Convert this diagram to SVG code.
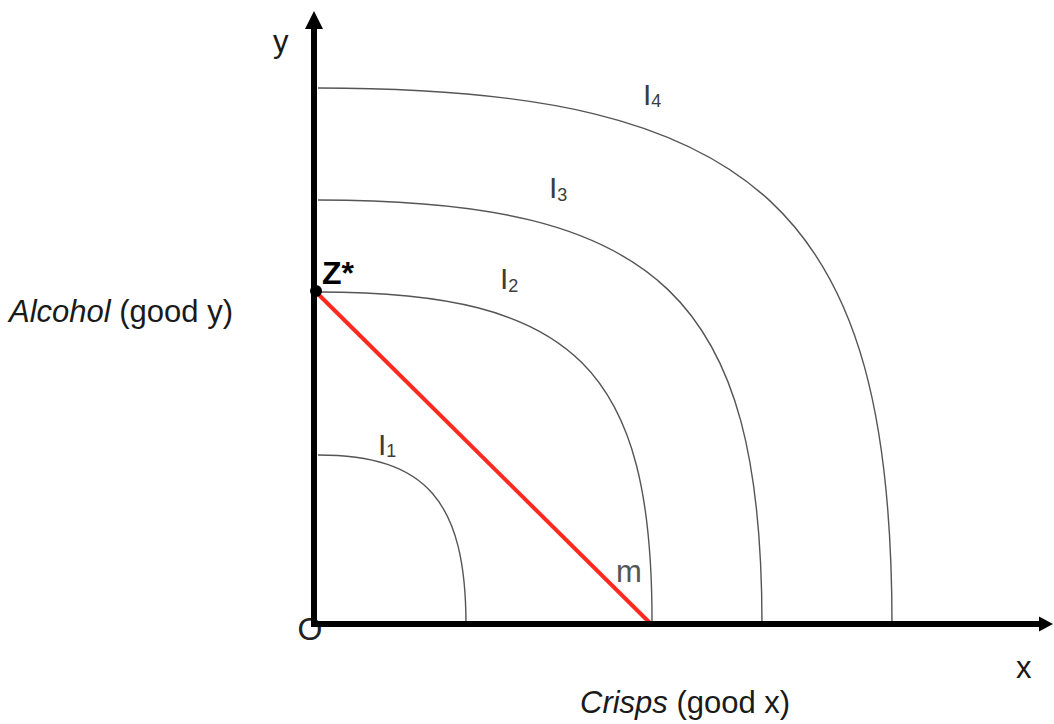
<svg xmlns="http://www.w3.org/2000/svg" width="1054" height="724" viewBox="0 0 1054 724">
<style>
  text { font-family: "Liberation Sans", Arial, sans-serif; }
  .lbl { font-size: 31px; fill: #1a1a1a; }
  .glbl { font-size: 30px; fill: #3c3c3c; }
  .sub { font-size: 18px; }
  .curve { fill: none; stroke: #555; stroke-width: 1.4; }
  .axis { stroke: #000; stroke-width: 6; fill: none; }
</style>
<rect width="1054" height="724" fill="#fff"/>

<g id="origin">
  <text x="310" y="640" font-size="32" fill="#222" text-anchor="middle">O</text>
</g>

<g id="connectors">
  <path id="curve-I1" class="curve" d="M318,455 C426,455 466,501 466,625"/>
  <path id="curve-I2" class="curve" d="M318,292 C575,292 653,369 652,625"/>
  <path id="curve-I3" class="curve" d="M318,200 C660,200 762,298 762,625"/>
  <path id="curve-I4" class="curve" d="M318,88 C760,88 892,212 892,625"/>
  <line id="budget-line" x1="316" y1="292" x2="651" y2="624" stroke="#ff2a1f" stroke-width="4"/>
</g>

<g id="axes">
  <line class="axis" x1="314" y1="627" x2="314" y2="27"/>
  <polygon points="314,11 305,29 323,29" fill="#000"/>
  <line class="axis" x1="311" y1="624" x2="1041" y2="624"/>
  <polygon points="1053,624 1039,616.5 1039,631.5" fill="#000"/>
</g>

<g id="point-Z">
  <circle cx="316" cy="291" r="6" fill="#000"/>
  <text x="322" y="284" font-size="32" font-weight="bold" fill="#000">Z*</text>
</g>

<g id="label-I1"><text class="glbl" x="378" y="455">I<tspan class="sub" dy="2">1</tspan></text></g>
<g id="label-I2"><text class="glbl" x="500" y="289">I<tspan class="sub" dy="3">2</tspan></text></g>
<g id="label-I3"><text class="glbl" x="549" y="198">I<tspan class="sub" dy="3">3</tspan></text></g>
<g id="label-I4"><text class="glbl" x="643" y="105">I<tspan class="sub" dy="2">4</tspan></text></g>
<g id="label-m"><text x="616" y="582" font-size="31" fill="#555">m</text></g>

<g id="label-y"><text class="lbl" x="273" y="52">y</text></g>
<g id="label-x"><text class="lbl" x="1016" y="678">x</text></g>
<g id="label-alcohol"><text class="lbl" x="9" y="322"><tspan font-style="italic">Alcohol</tspan> (good y)</text></g>
<g id="label-crisps"><text class="lbl" x="580" y="713"><tspan font-style="italic">Crisps</tspan> (good x)</text></g>
</svg>
